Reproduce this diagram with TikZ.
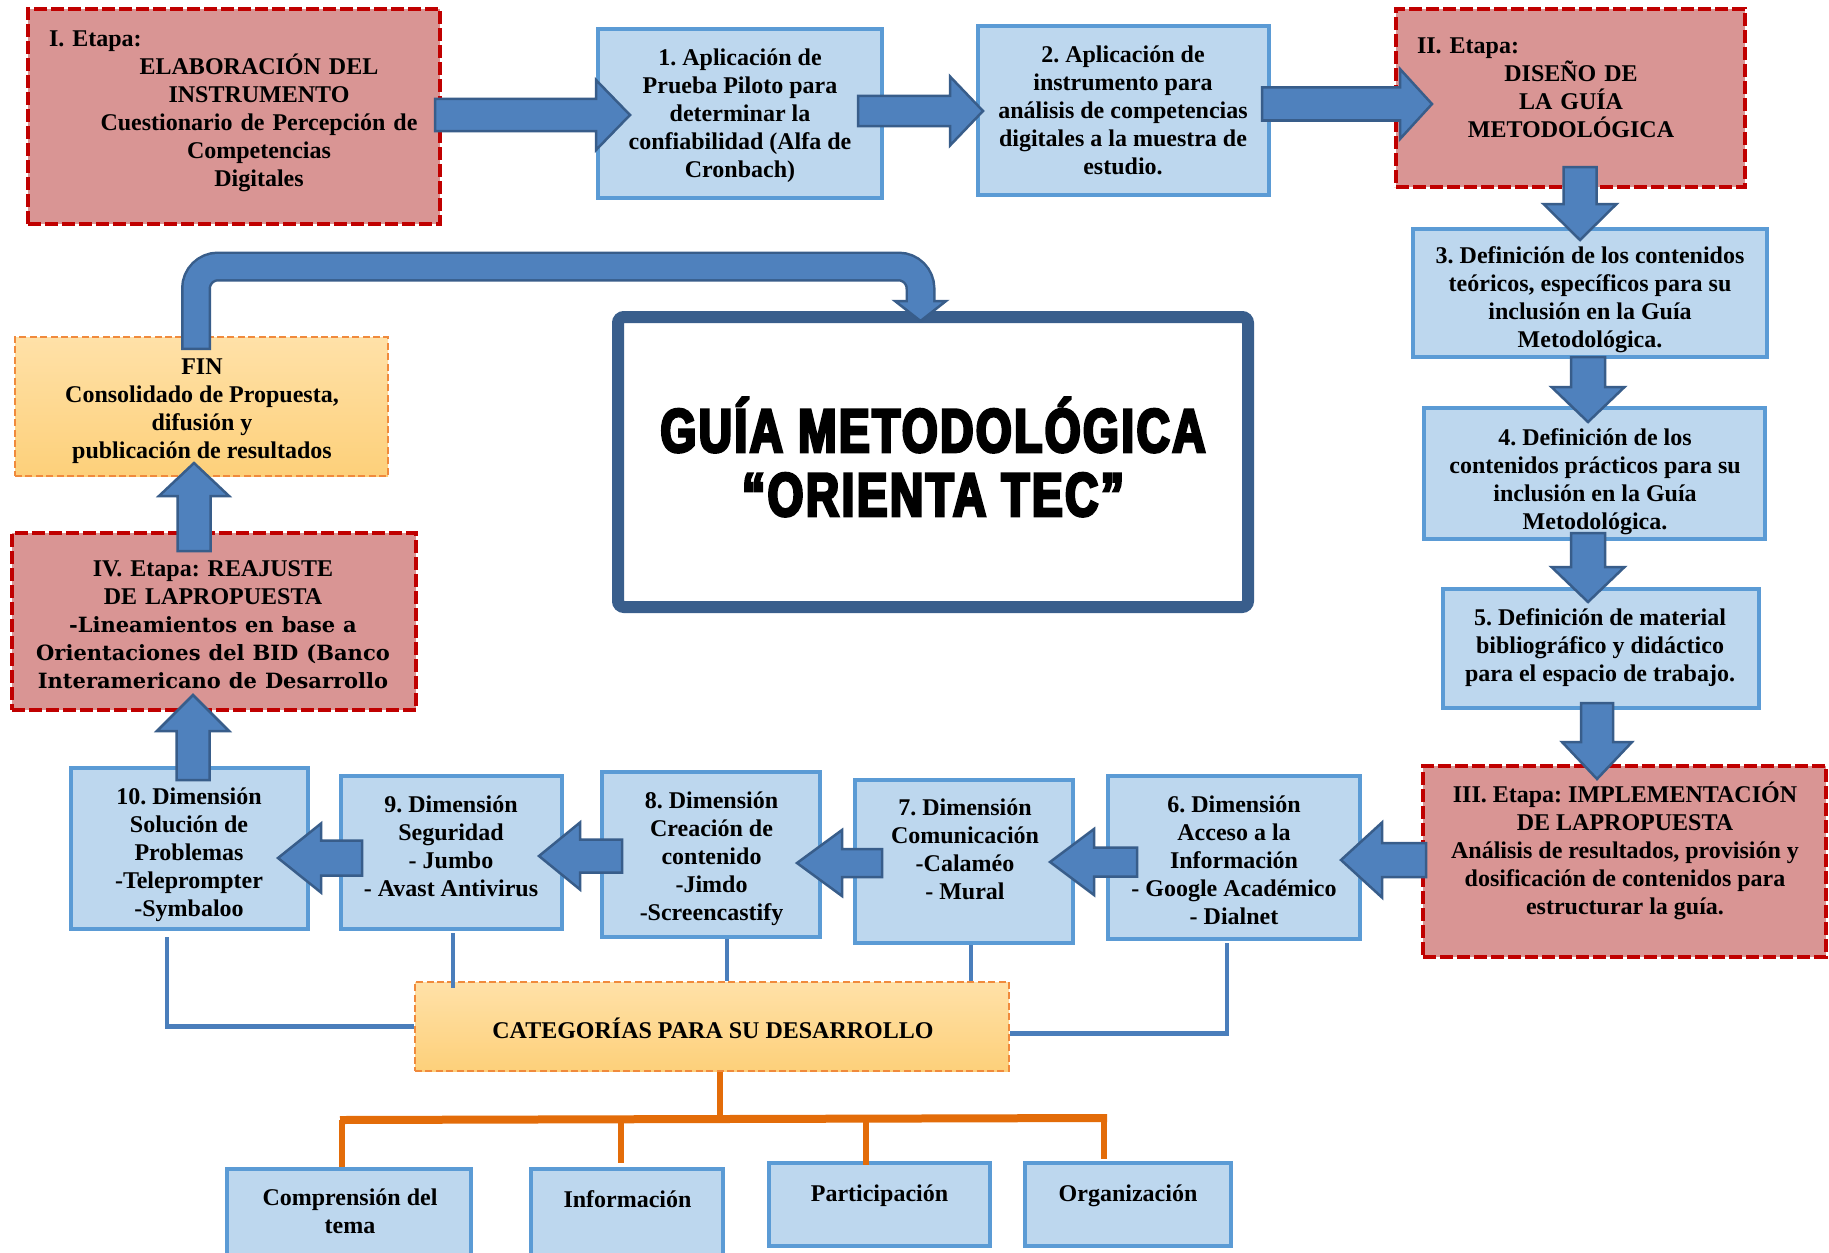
\documentclass[tikz,border=0pt]{standalone}
\usepackage{fontspec}
\setmainfont{Liberation Serif}
\newfontfamily\slabfont{DejaVu Serif}
\newfontfamily\titlefont[UprightFont={* Bold},FakeStretch=0.75,FakeBold=4.5,LetterSpace=4]{Liberation Sans}
\usetikzlibrary{calc}
\frenchspacing
\definecolor{etred}{HTML}{D99594}
\definecolor{etborder}{HTML}{C00000}
\definecolor{bfill}{HTML}{BDD7EE}
\definecolor{bborder}{HTML}{5B9BD5}
\definecolor{ofillA}{HTML}{FFE1A8}
\definecolor{ofillB}{HTML}{FDD07A}
\definecolor{oborder}{HTML}{F08A3C}
\definecolor{afill}{HTML}{4F81BD}
\definecolor{aborder}{HTML}{385D8A}
\definecolor{gborder}{HTML}{395E8C}
\definecolor{lblue}{HTML}{4A7EBB}
\definecolor{treec}{HTML}{E36C09}
\tikzset{
  etapa/.style={draw=etborder, fill=etred, line width=2.4pt, dash pattern=on 6.3pt off 2.2pt, inner sep=0pt},
  bbox/.style={draw=bborder, fill=bfill, line width=1.75pt, inner sep=0pt},
  obox/.style={draw=oborder, top color=ofillA, bottom color=ofillB, line width=1.35pt, dash pattern=on 3.5pt off 1.7pt, inner sep=0pt},
  gbox/.style={draw=gborder, fill=white, line width=6pt, rounded corners=3pt, inner sep=0pt},
  txt/.style={font=\bfseries\fontsize{12}{14}\selectfont, align=center, inner sep=0pt},
  barrowstyle/.style={fill=afill, draw=aborder, line width=1.25pt, line join=miter},
  thinline/.style={draw=lblue, line width=2.4pt},
  treeline/.style={draw=treec, line width=3pt},
}
% block arrow: start, tip, shaft half width, head half width, head length
\newcommand{\barrow}[5]{%
  \coordinate (ba-hb) at ($(#2)!#5!(#1)$);
  \filldraw[barrowstyle] ($(#1)!#3!90:(#2)$) -- ($(ba-hb)!#3!90:(#2)$) -- ($(ba-hb)!#4!90:(#2)$) -- (#2) -- ($(ba-hb)!#4!-90:(#2)$) -- ($(ba-hb)!#3!-90:(#2)$) -- ($(#1)!#3!-90:(#2)$) -- cycle;
}
\newcommand{\slab}{\slabfont\bfseries\fontsize{10.5}{14}\selectfont}
\begin{document}
\begin{tikzpicture}[x=0.5pt,y=-0.5pt]
\useasboundingbox[fill=white] (0,0) rectangle (1829,1252);

% ---------- boxes ----------
\node[etapa, minimum width=206pt, minimum height=107.5pt] (e1) at (234,116.5) {};
\node[bbox, minimum width=142pt, minimum height=84.5pt] (b1) at (740,113.5) {};
\node[bbox, minimum width=145.5pt, minimum height=84.5pt] (b2) at (1123.5,110.5) {};
\node[etapa, minimum width=174.5pt, minimum height=89pt] (e2) at (1570.5,98) {};
\node[bbox, minimum width=177pt, minimum height=64pt] (b3) at (1590,293) {};
\node[bbox, minimum width=170.5pt, minimum height=65.5pt] (b4) at (1594.5,473.5) {};
\node[bbox, minimum width=158pt, minimum height=59.5pt] (b5) at (1601,648.5) {};
\node[etapa, minimum width=201.5pt, minimum height=95.5pt] (e3) at (1624.5,861.5) {};
\node[bbox, minimum width=126pt, minimum height=81.5pt] (b6) at (1234,857.5) {};
\node[bbox, minimum width=109pt, minimum height=81.5pt] (b7) at (964,861.5) {};
\node[bbox, minimum width=109pt, minimum height=82.5pt] (b8) at (711,854.5) {};
\node[bbox, minimum width=110.5pt, minimum height=76.5pt] (b9) at (451.5,852.5) {};
\node[bbox, minimum width=118.5pt, minimum height=80.5pt] (b10) at (189.5,848.5) {};
\node[etapa, minimum width=202pt, minimum height=88.5pt] (e4) at (214,621.5) {};
\node[obox, minimum width=186.5pt, minimum height=69.5pt] (fin) at (201.5,406.5) {};
\node[gbox, minimum width=315pt, minimum height=145pt] (guia) at (933,462) {};
\node[obox, minimum width=297pt, minimum height=44.5pt] (cat) at (712,1026.5) {};
\node[bbox, minimum width=122pt, minimum height=43.5pt] (c1) at (349,1212.5) {};
\node[bbox, minimum width=96pt, minimum height=43.5pt] (c2) at (627,1212.5) {};
\node[bbox, minimum width=110.5pt, minimum height=41.5pt] (c3) at (879.5,1204.5) {};
\node[bbox, minimum width=103pt, minimum height=41.5pt] (c4) at (1128,1204.5) {};

% ---------- thin blue connectors ----------
\coordinate (l10) at (167,937);
\coordinate (l9) at (453,933);
\coordinate (l8) at (727,939);
\coordinate (l7) at (971,945);
\coordinate (l6) at (1227,943);
\draw[thinline] (l10) |- (cat.west);
\draw[thinline] (l9) -- ($(l9 |- cat.north)+(0,7)$);
\draw[thinline] (l8) -- (l8 |- cat.north);
\draw[thinline] (l7) -- (l7 |- cat.north);
\draw[thinline] (l6) |- ($(cat.east)+(0,7)$);

% ---------- orange tree ----------
\coordinate (st) at ($(cat.south)+(8,0)$);
\coordinate (sb) at (720,1120);
\coordinate (d1) at (342,1120);
\coordinate (d2) at (621,1120);
\coordinate (d3) at (866,1120);
\coordinate (d4) at (1104,1116);
\draw[treeline] (st) -- (sb);
\draw[draw=treec, line width=4pt] (340,1120) -- (1107,1118);
\draw[treeline] (d1) -- (d1 |- c1.north);
\draw[treeline] (d2) -- ($(d2 |- c2.north)+(0,-4)$);
\draw[treeline] (d3) -- ($(d3 |- c3.north)+(0,4)$);
\draw[treeline] (d4) -- ($(d4 |- c4.north)+(0,-2)$);

% ---------- block arrows ----------
\coordinate (a1s) at (435,115);   \coordinate (a1t) at (630,115);
\coordinate (a2s) at (858,111);   \coordinate (a2t) at (983,111);
\coordinate (a3s) at (1262,104);  \coordinate (a3t) at (1432,104);
\coordinate (a4s) at (1580,167);  \coordinate (a4t) at (1580,240);
\coordinate (a5s) at (1588,357);  \coordinate (a5t) at (1588,422);
\coordinate (a6s) at (1588,533);  \coordinate (a6t) at (1588,602);
\coordinate (a7s) at (1597,703);  \coordinate (a7t) at (1597,779);
\coordinate (a8s) at (1426,860);  \coordinate (a8t) at (1341,860);
\coordinate (a9s) at (1137,862);  \coordinate (a9t) at (1050,862);
\coordinate (a10s) at (882,863);  \coordinate (a10t) at (797,863);
\coordinate (a11s) at (622,856);  \coordinate (a11t) at (539,856);
\coordinate (a12s) at (362,858);  \coordinate (a12t) at (278,858);
\coordinate (a13s) at (193,780);  \coordinate (a13t) at (193,695);
\coordinate (a14s) at (194,551);  \coordinate (a14t) at (194,463);
\barrow{a1s}{a1t}{8pt}{17.5pt}{17pt}
\barrow{a2s}{a2t}{7.5pt}{17.25pt}{16.5pt}
\barrow{a3s}{a3t}{8.25pt}{17.5pt}{16pt}
\barrow{a4s}{a4t}{8.25pt}{18.25pt}{18pt}
\barrow{a5s}{a5t}{8.5pt}{18.25pt}{17.5pt}
\barrow{a6s}{a6t}{8.5pt}{18.25pt}{17.5pt}
\barrow{a7s}{a7t}{8pt}{17.5pt}{18.5pt}
\barrow{a8s}{a8t}{8.5pt}{18.75pt}{20.5pt}
\barrow{a9s}{a9t}{7.25pt}{16.5pt}{22pt}
\barrow{a10s}{a10t}{7pt}{16.5pt}{22.5pt}
\barrow{a11s}{a11t}{8.25pt}{16.75pt}{20.5pt}
\barrow{a12s}{a12t}{8.75pt}{17.25pt}{21.5pt}
\barrow{a13s}{a13t}{8.25pt}{18pt}{18pt}
\barrow{a14s}{a14t}{8.25pt}{17.5pt}{16.5pt}

% ---------- bent arrow FIN -> GUIA ----------
\coordinate (bn1) at (196,350);
\coordinate (bn2) at (196,266.5);
\coordinate (bn3) at (920.5,266.5);
\coordinate (bn4) at (920.5,301);
\coordinate (bn5) at (920.5,321);
\draw[draw=aborder, line width=15pt, rounded corners=11pt] (bn1) -- (bn2) -- (bn3) -- (bn4);
\filldraw[barrowstyle] ($(bn4)+(-25.5,0)$) -- ($(bn4)+(25.5,0)$) -- (bn5) -- cycle;
\draw[draw=afill, line width=12.5pt, rounded corners=11pt] ($(bn1)+(0,-2.5)$) -- (bn2) -- (bn3) -- ($(bn4)+(0,3)$);

% ---------- texts ----------
\node[txt, text width=210pt] (te1) at (259,111) {\makebox[\linewidth][l]{I. Etapa:}\\ELABORACIÓN DEL\\INSTRUMENTO\\Cuestionario de Percepción de\\Competencias\\Digitales};
\node[txt] (tb1) at (740,116) {1. Aplicación de\\Prueba Piloto para\\determinar la\\confiabilidad (Alfa de\\Cronbach)};
\node[txt] (tb2) at (1123,110) {2. Aplicación de\\instrumento para\\análisis de competencias\\digitales a la muestra de\\estudio.};
\node[txt, text width=154pt] (te2) at (1571,88) {\makebox[\linewidth][l]{II. Etapa:}\\DISEÑO DE\\LA GUÍA\\METODOLÓGICA};
\node[txt] (tb3) at (1590,300) {3. Definición de los contenidos\\teóricos, específicos para su\\inclusión en la Guía\\Metodológica.};
\node[txt] (tb4) at (1595,482) {4. Definición de los\\contenidos prácticos para su\\inclusión en la Guía\\Metodológica.};
\node[txt] (tb5) at (1600,648) {5. Definición de material\\bibliográfico y didáctico\\para el espacio de trabajo.};
\node[txt] (te3) at (1625,851) {III. Etapa: IMPLEMENTACIÓN\\DE LAPROPUESTA\\Análisis de resultados, provisión y\\dosificación de contenidos para\\estructurar la guía.};
\node[txt] (tb6) at (1234,860) {6. Dimensión\\Acceso a la\\Información\\- Google Académico\\- Dialnet};
\node[txt] (tb7) at (965,849) {7. Dimensión\\Comunicación\\-Calaméo\\- Mural};
\node[txt] (tb8) at (711.5,859) {8. Dimensión\\Creación de\\contenido\\-Jimdo\\-Screencastify};
\node[txt] (tb9) at (451,846) {9. Dimensión\\Seguridad\\- Jumbo\\- Avast Antivirus};
\node[txt] (tb10) at (189,854.5) {10. Dimensión\\Solución de\\Problemas\\-Teleprompter\\-Symbaloo};
\node[txt, text width=200pt] (te4) at (213,624.5) {IV. Etapa: REAJUSTE\\DE LAPROPUESTA\\\slab -Lineamientos en base a\\Orientaciones del BID (Banco\\Interamericano de Desarrollo};
\node[txt] (tfin) at (202,411.5) {FIN\\Consolidado de Propuesta,\\difusión y\\publicación de resultados};
\node[txt] (tcat) at (713,1028) {CATEGORÍAS PARA SU DESARROLLO};
\node[txt] (tc1) at (350,1211) {Comprensión del\\tema};
\node[txt] (tc2) at (627.5,1199) {Información};
\node[txt] (tc3) at (879.5,1195.5) {Participación};
\node[txt] (tc4) at (1128,1195.5) {Organización};
\node[font=\titlefont\fontsize{30.7}{32}\selectfont, align=center, inner sep=0pt] (title) at (933,457) {GUÍA METODOLÓGICA\\“ORIENTA TEC”};
\end{tikzpicture}
\end{document}
